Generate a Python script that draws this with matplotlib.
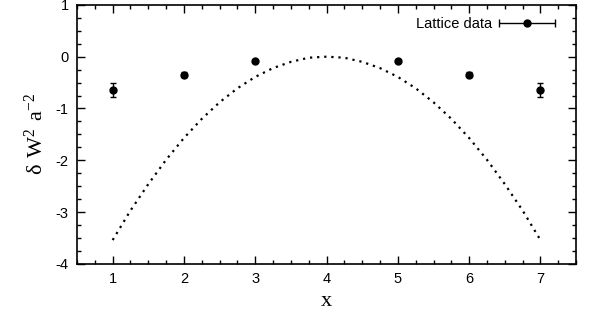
import matplotlib
matplotlib.use('Agg')
from matplotlib import pyplot as plt
from matplotlib.ticker import MultipleLocator
from matplotlib.legend_handler import HandlerErrorbar

# lattice points (x=4 missing in the data)
lat_x = [1, 2, 3, 5, 6, 7]
lat_y = [-0.64, -0.35, -0.09, -0.09, -0.35, -0.64]
lat_err = [0.13, 0.05, 0.02, 0.02, 0.05, 0.13]

# dotted curve
curve_x = [1, 1.25, 1.5, 1.75, 2, 2.25, 2.5, 2.75, 3, 3.25, 3.5, 3.75, 4,
           4.25, 4.5, 4.75, 5, 5.25, 5.5, 5.75, 6, 6.25, 6.5, 6.75, 7]
curve_y = [-3.54, -2.97, -2.46, -1.99, -1.57, -1.20, -0.88, -0.61, -0.39, -0.22, -0.10, -0.02, 0.0,
           -0.02, -0.10, -0.22, -0.39, -0.61, -0.88, -1.20, -1.57, -1.99, -2.46, -2.97, -3.54]

plt.rcParams['font.family'] = ['Liberation Sans', 'DejaVu Sans']
plt.rcParams['axes.unicode_minus'] = False

fig = plt.figure(figsize=(5.97, 3.25), dpi=100)
ax = fig.add_axes([0.129, 0.188, 0.836, 0.797])

ax.plot(curve_x, curve_y, color='black', linestyle=(0, (1, 2.2)), linewidth=1.6)
ax.errorbar(lat_x, lat_y, yerr=lat_err, fmt='o', color='black', markersize=5,
            capsize=2.5, elinewidth=1, capthick=1)

# legend proxy (nan, not drawn): horizontal error bar like gnuplot's key
nan = float('nan')
proxy = ax.errorbar([nan], [nan], xerr=[1.0], fmt='o', color='black', markersize=5,
                    capsize=3, elinewidth=1, capthick=1)

ax.set_xlim(0.5, 7.5)
ax.set_ylim(-4, 1)
ax.xaxis.set_major_locator(MultipleLocator(1))
ax.xaxis.set_minor_locator(MultipleLocator(0.25))
ax.yaxis.set_major_locator(MultipleLocator(1))
ax.yaxis.set_minor_locator(MultipleLocator(0.25))
ax.tick_params(which='both', direction='in', top=True, right=True, labelsize=10.5, width=1)
ax.tick_params(which='major', length=6, pad=6)
ax.tick_params(which='minor', length=3)
for s in ax.spines.values():
    s.set_linewidth(1.2)

ax.set_xlabel('x', family='Liberation Serif', fontsize=16, labelpad=4)
ax.set_ylabel(r'$\mathregular{\delta\ W^2\ a^{-2}}$', family='Liberation Serif', fontsize=16, labelpad=6)

ax.legend([proxy], ['Lattice data'], loc='center right', bbox_to_anchor=(0.96, 0.927),
          frameon=False, fontsize=10.5, handlelength=4.0, markerfirst=False,
          borderaxespad=0, borderpad=0, handletextpad=0.4,
          handler_map={type(proxy): HandlerErrorbar(xerr_size=1.95)})

fig.savefig('out.png', dpi=100)
